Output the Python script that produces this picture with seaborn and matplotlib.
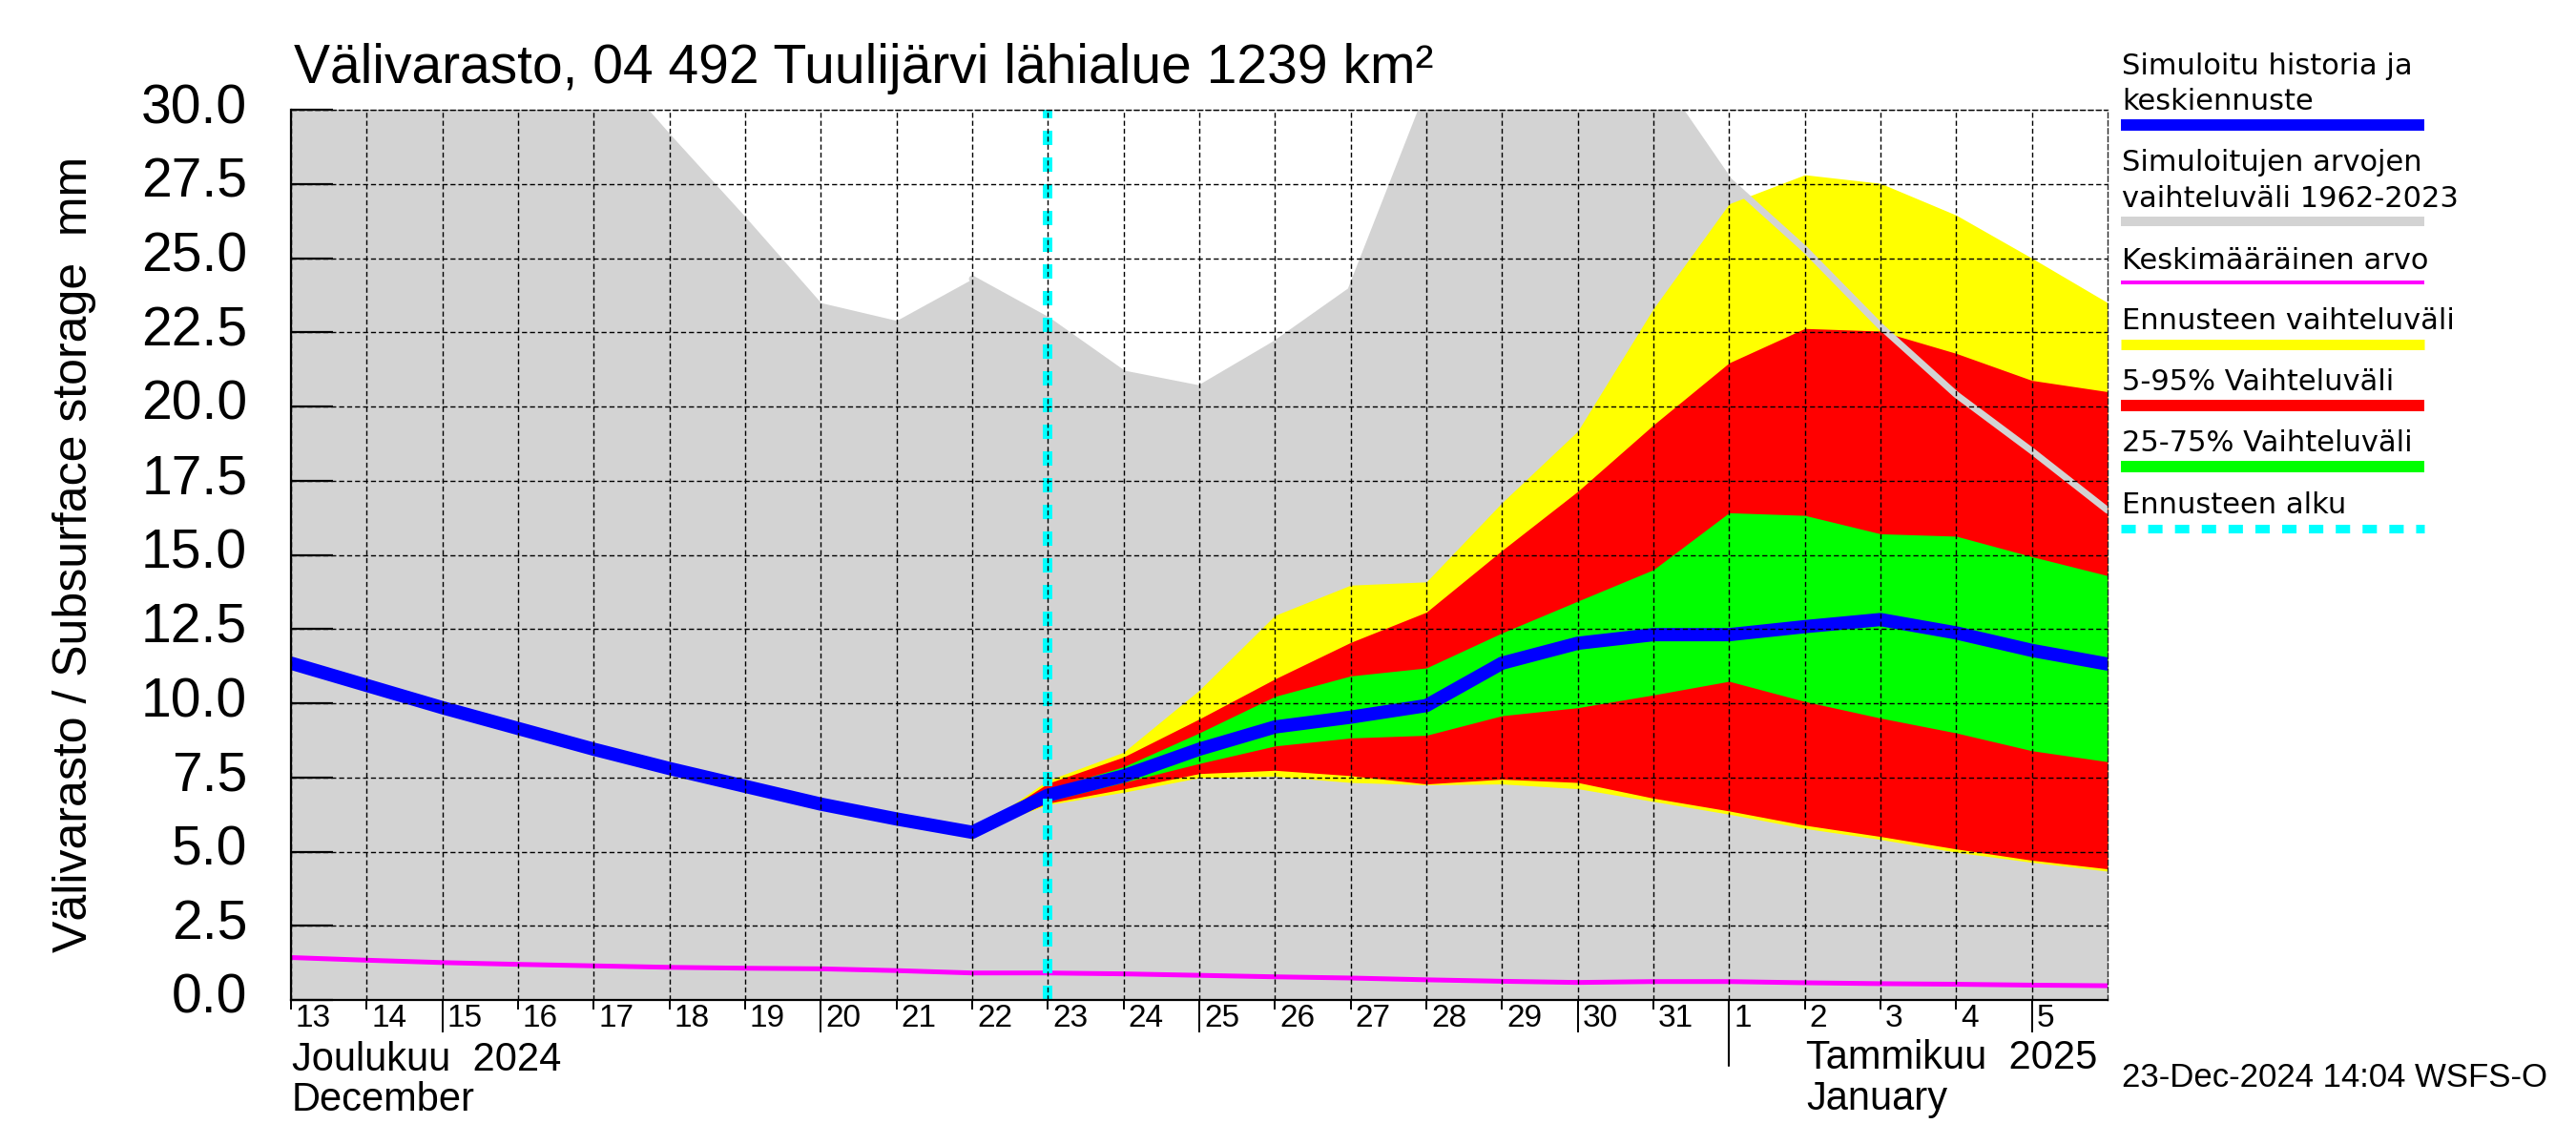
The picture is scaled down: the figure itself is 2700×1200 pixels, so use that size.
import matplotlib
matplotlib.use("Agg")
import matplotlib.pyplot as plt
import matplotlib.transforms as mtransforms
from matplotlib.ticker import MultipleLocator, FormatStrFormatter
from matplotlib.lines import Line2D
import pandas as pd
import seaborn as sns

sns.set_style("white")
plt.rcParams["font.family"] = ["Liberation Sans", "DejaVu Sans"]
plt.rcParams["text.color"] = "black"
plt.rcParams["xtick.color"] = "black"
plt.rcParams["ytick.color"] = "black"
plt.rcParams["axes.labelcolor"] = "black"

# --- data --------------------------------------------------------------
days = pd.date_range("2024-12-13", "2025-01-06", freq="D")   # 25 days
fc_days = days[9:]                                            # Dec 22 .. Jan 6
forecast_start = pd.Timestamp("2024-12-23")
jan1 = pd.Timestamp("2025-01-01")

day_labels = ["13", "14", "15", "16", "17", "18", "19", "20", "21", "22", "23",
              "24", "25", "26", "27", "28", "29", "30", "31", "1", "2", "3", "4", "5"]
long_tick_days = pd.to_datetime(["2024-12-15", "2024-12-20", "2024-12-25",
                                 "2024-12-30", "2025-01-05"])

# historical range 1962-2023, upper edge (lower edge is the axis, 0)
hist_upper = [34.0, 34.0, 34.0, 33.5, 32.1, 29.2, 26.4, 23.5, 22.9, 24.3, 22.9,
              21.1, 20.6, 22.1, 23.9, 30.4, 32.0, 32.0, 31.3, 27.6, 25.3, 22.7,
              20.4, 18.5, 16.5]
mean_value = [1.43, 1.34, 1.26, 1.20, 1.15, 1.10, 1.07, 1.05, 0.99, 0.91, 0.91,
              0.88, 0.83, 0.78, 0.74, 0.68, 0.63, 0.59, 0.62, 0.62, 0.58, 0.55,
              0.53, 0.50, 0.48]
median = [11.35, 10.6, 9.85, 9.15, 8.45, 7.8, 7.2, 6.6, 6.1, 5.65, 6.9, 7.55,
          8.45, 9.2, 9.53, 9.92, 11.35, 12.02, 12.31, 12.31, 12.58, 12.82, 12.37,
          11.78, 11.32]

# forecast bands, Dec 22 .. Jan 6
ens_max = [5.65, 7.4, 8.35, 10.44, 12.96, 13.98, 14.09, 16.76, 19.17, 23.3,
           26.83, 27.81, 27.52, 26.45, 25.0, 23.5]
ens_min = [5.65, 6.58, 7.0, 7.49, 7.54, 7.33, 7.25, 7.28, 7.12, 6.69, 6.26,
           5.78, 5.41, 4.98, 4.64, 4.34]
p95 = [5.65, 7.3, 8.19, 9.47, 10.82, 12.05, 13.07, 15.15, 17.14, 19.38, 21.47,
       22.63, 22.54, 21.79, 20.88, 20.5]
p05 = [5.65, 6.63, 7.11, 7.63, 7.74, 7.56, 7.28, 7.44, 7.33, 6.8, 6.37, 5.89,
       5.51, 5.09, 4.71, 4.42]
p75 = [5.65, 7.1, 7.86, 9.0, 10.23, 10.92, 11.19, 12.37, 13.44, 14.5, 16.42,
       16.33, 15.71, 15.63, 14.94, 14.3]
p25 = [5.65, 6.7, 7.33, 7.97, 8.56, 8.83, 8.92, 9.58, 9.85, 10.28, 10.74,
       10.06, 9.5, 9.0, 8.4, 8.03]

legend_items = [
    (["Simuloitu historia ja", "keskiennuste"], "#0000ff", 8.6, "-"),
    (["Simuloitujen arvojen", "vaihteluväli 1962-2023"], "#d3d3d3", 7.2, "-"),
    (["Keskimääräinen arvo"], "#ff00ff", 2.9, "-"),
    (["Ennusteen vaihteluväli"], "#ffff00", 7.9, "-"),
    (["5-95% Vaihteluväli"], "#ff0000", 8.6, "-"),
    (["25-75% Vaihteluväli"], "#00ff00", 8.6, "-"),
    (["Ennusteen alku"], "#00ffff", 6.5, "--"),
]
legend_text_y = [[78, 115], [179, 217], [282], [345], [409], [473], [538]]
legend_line_y = [131, 232, 296, 361, 425, 489, 554]

# --- figure -------------------------------------------------------------
W, H = 2700, 1200
fig = plt.figure(figsize=(W / 100, H / 100), dpi=100)
ax = fig.add_axes([305 / W, 1 - 1048 / H, (2209 - 305) / W, (1048 - 115) / H])


def fx(x):
    return x / W


def fy(y):
    return 1 - y / H


ax.fill_between(days, 0, hist_upper, color="#d3d3d3", lw=0, zorder=1.0)
ax.fill_between(fc_days, ens_min, ens_max, color="#ffff00", lw=0, zorder=1.1)
ax.fill_between(fc_days, p05, p95, color="#ff0000", lw=0, zorder=1.2)
ax.fill_between(fc_days, p25, p75, color="#00ff00", lw=0, zorder=1.3)
sns.lineplot(x=fc_days, y=hist_upper[9:], ax=ax, color="#d3d3d3", lw=5,
             zorder=1.5)
sns.lineplot(x=days, y=mean_value, ax=ax, color="#ff00ff", lw=3.6, zorder=1.6)
sns.lineplot(x=days, y=median, ax=ax, color="#0000ff", lw=10, zorder=1.8)
ax.axvline(forecast_start, color="#00ffff", lw=7.2, dashes=(1.5, 1.3),
           zorder=1.9)

ax.set_xlim(days[0], days[-1])
ax.set_ylim(0, 30)

# grid over everything, as in the original
ax.set_axisbelow(False)
ax.grid(True, color="black", lw=1.0, dashes=(3.8, 2.2))
for s in ["top", "right"]:
    ax.spines[s].set_linewidth(1.0)
    ax.spines[s].set_linestyle((0, (3.8, 2.2)))
for s in ["left", "bottom"]:
    ax.spines[s].set_linewidth(1.6)
    ax.spines[s].set_color("black")

ax.yaxis.set_major_locator(MultipleLocator(2.5))
ax.yaxis.set_major_formatter(FormatStrFormatter("%.1f"))
ax.tick_params(axis="y", direction="in", length=32, width=1.6, pad=33,
               labelsize=41, left=True)
lift = mtransforms.ScaledTranslation(0, 7 / 100, fig.dpi_scale_trans)
for lab in ax.get_yticklabels():
    lab.set_transform(lab.get_transform() + lift)

ax.set_xticks(days[:-1])
ax.set_xticklabels(day_labels)
ax.xaxis.remove_overlapping_locs = False
ax.set_xticks(long_tick_days, minor=True)
ax.tick_params(axis="x", which="major", direction="out", length=7.2,
               width=1.4, pad=-4, labelsize=24, bottom=True)
ax.tick_params(axis="x", which="minor", direction="out", length=24.5,
               width=1.4, bottom=True)
shift = mtransforms.ScaledTranslation(5 / 100, 0, fig.dpi_scale_trans)
for lab in ax.get_xticklabels():
    lab.set_horizontalalignment("left")
    lab.set_transform(lab.get_transform() + shift)
ax.axvline(jan1, ymin=-69 / 933, ymax=0, color="black", lw=1.5, clip_on=False)
ax.set_xlabel("")
ax.set_ylabel("")

# --- texts --------------------------------------------------------------
fig.text(fx(308), fy(87), "Välivarasto, 04 492 Tuulijärvi lähialue 1239 km²",
         fontsize=41, va="baseline", ha="left")
fig.text(fx(78), fy(581), "Välivarasto / Subsurface storage  mm", fontsize=36,
         rotation=90, ha="center", va="center")
fig.text(fx(306), fy(1122), "Joulukuu  2024", fontsize=30, va="baseline")
fig.text(fx(306), fy(1164), "December", fontsize=30, va="baseline")
fig.text(fx(1893), fy(1120), "Tammikuu  2025", fontsize=30, va="baseline")
fig.text(fx(1893), fy(1163), "January", fontsize=30, va="baseline")
fig.text(fx(2224), fy(1139), "23-Dec-2024 14:04 WSFS-O", fontsize=25,
         va="baseline")

for (lines, color, lw, ls), ys, ly in zip(legend_items, legend_text_y,
                                          legend_line_y):
    for txt, y in zip(lines, ys):
        fig.text(fx(2224), fy(y), txt, fontsize=22, va="baseline",
                 family=["DejaVu Sans"])
    line = Line2D([fx(2223), fx(2541)], [fy(ly), fy(ly)], transform=fig.transFigure,
                  color=color, lw=lw, solid_capstyle="butt", dash_capstyle="butt")
    if ls == "--":
        line.set_dashes((15 / 9, 13 / 9))
    fig.add_artist(line)

fig.savefig("out.png", dpi=100)
